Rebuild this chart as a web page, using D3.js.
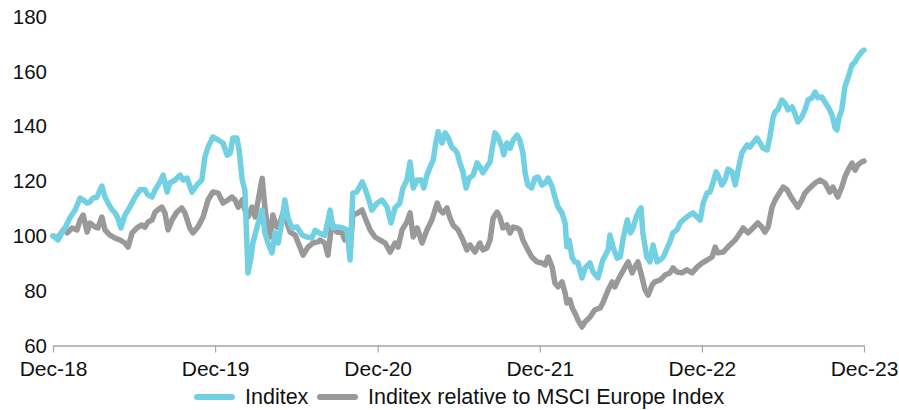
<!DOCTYPE html>
<html>
<head>
<meta charset="utf-8">
<script src="https://cdn.jsdelivr.net/npm/d3@7"></script>
<style>
  html, body { margin: 0; padding: 0; background: #fff; }
  svg { display: block; font-family: "Liberation Sans", Arial, sans-serif; }
</style>
</head>
<body>
<svg id="chart" width="899" height="410"></svg>
<script>
// Days elapsed since 31 Dec 2018, with the rebased share price (31 Dec 2018 = 100)
const inditexDays = [0,11,27,38,50,61,68,77,83,90,99,106,110,117,124,133,140,146,153,162,173,185,196,207,214,223,230,241,248,257,263,275,286,293,302,313,324,335,342,349,360,372,383,392,399,405,414,419,426,432,439,446,450,462,471,477,484,493,500,507,516,522,529,538,549,561,572,583,590,601,612,624,630,642,653,662,669,675,684,696,702,709,718,730,741,752,761,770,781,788,797,804,811,820,829,835,842,849,856,862,867,876,883,889,898,905,910,916,923,930,937,946,955,961,968,977,984,991,995,1002,1011,1015,1022,1029,1036,1045,1051,1058,1063,1069,1078,1085,1092,1101,1108,1115,1124,1130,1137,1146,1153,1157,1162,1169,1175,1182,1191,1198,1209,1216,1227,1238,1250,1254,1261,1270,1277,1284,1293,1300,1306,1313,1320,1324,1328,1337,1344,1351,1360,1367,1374,1383,1389,1396,1405,1412,1419,1427,1434,1441,1450,1457,1464,1473,1479,1486,1493,1497,1506,1513,1520,1529,1536,1543,1551,1563,1569,1576,1585,1592,1599,1608,1614,1621,1626,1632,1641,1648,1655,1664,1670,1677,1686,1693,1700,1709,1716,1722,1731,1738,1745,1754,1761,1765,1770,1776,1783,1790,1799,1806,1812,1821,1826];
const inditexValues = [100,98.5,102.9,106.5,109.5,113.8,113.1,112.0,112.4,113.8,114.2,116.8,118.2,114.2,112.0,109.5,108.4,106.5,102.9,107.6,110.5,114.2,116.8,116.8,114.9,114.2,116.8,119.7,122.2,116.0,119.3,120.4,122.2,120.4,121.1,116.0,118.6,120.4,128.8,132.4,136.1,135.0,133.9,129.5,130.2,135.7,135.7,131.4,120.4,116.8,86.5,92.3,97.4,104.7,109.4,101.1,97.4,93.8,101.1,97.4,105.8,113.1,106.5,102.9,103.3,100.3,99.6,99.2,102.0,100.9,100.2,109.4,102.9,103.3,102.9,102.2,91.2,115.6,116.0,119.7,117.5,114.2,109.4,112.0,113.1,110.6,104.7,110.2,112.0,117.5,120.4,127.0,117.5,120.4,120.4,117.5,122.2,125.1,127.7,133.9,138.0,133.9,137.6,136.1,132.4,131.4,130.3,126.7,123.4,117.5,121.1,122.2,126.7,125.3,123.0,125.3,127.0,133.9,137.6,136.1,132.4,129.6,133.9,132.0,134.9,136.8,134.9,130.3,123.0,118.6,117.5,121.1,121.5,118.6,119.3,121.1,117.9,114.2,110.6,108.4,104.7,96.0,98.5,92.0,90.5,90.2,84.7,88.3,90.1,86.8,84.7,91.2,94.9,100.3,95.9,91.9,92.3,99.3,105.8,101.1,102.9,106.9,109.4,110.2,101.1,92.3,90.5,96.7,90.5,91.2,92.3,95.6,97.8,101.1,102.2,104.7,105.8,106.9,107.7,108.4,106.9,105.8,112.0,115.7,116.0,119.3,123.4,122.2,118.6,120.4,124.4,123.3,118.6,124.4,130.3,133.2,132.4,133.9,135.7,133.9,132.0,131.4,136.1,143.1,145.3,146.0,149.6,148.5,146.0,147.1,144.9,141.6,143.4,146.0,149.6,150.4,152.5,150.4,150.7,148.9,147.1,144.2,139.4,138.7,143.4,146.0,154.4,157.7,162.4,163.5,165.3,167.2,167.8];

// Days elapsed since 31 Dec 2018, with the price relative to the MSCI Europe Index (rebased to 100)
const relativeDays = [0,11,23,32,43,54,61,68,77,83,95,101,110,117,128,140,151,162,169,178,189,200,207,214,223,230,236,245,252,259,268,279,290,297,308,315,326,338,349,360,372,383,394,403,410,417,426,432,439,448,455,462,471,477,482,489,495,504,511,518,527,534,545,556,563,574,585,597,601,612,619,628,639,651,657,664,669,675,687,696,702,714,725,736,748,759,770,777,786,797,804,811,820,831,842,853,865,871,878,887,894,901,912,923,932,939,950,961,968,977,984,991,1000,1006,1013,1022,1029,1036,1045,1051,1058,1067,1078,1090,1101,1108,1115,1124,1130,1137,1146,1153,1157,1164,1169,1175,1182,1191,1198,1209,1220,1232,1238,1250,1259,1265,1272,1281,1288,1295,1304,1310,1317,1326,1333,1340,1349,1355,1367,1378,1389,1396,1405,1416,1427,1439,1450,1461,1473,1484,1491,1497,1509,1524,1536,1547,1554,1565,1576,1587,1596,1603,1610,1619,1626,1637,1644,1653,1659,1666,1677,1686,1693,1704,1716,1727,1738,1749,1756,1767,1776,1783,1790,1799,1806,1812,1821,1826];
const relativeValues = [100,99.2,102.2,101.1,102.9,102.2,105.8,107.6,101.4,104.7,103.2,102.9,106.9,102.2,100.3,99.2,98.5,97.4,95.9,101.1,102.9,104.0,103.2,105.1,105.8,108.7,109.5,110.5,108.4,102.2,105.8,108.7,110.2,108.4,102.9,101.1,103.2,106.9,113.1,116.0,115.6,112.0,113.1,114.2,113.1,110.5,113.1,109.5,106.9,110.5,106.9,113.1,121.0,110.5,104.0,99.6,107.6,103.2,104.7,108.4,104.7,101.4,100.3,95.9,93.0,95.9,97.4,97.8,98.5,97.4,93.0,104.7,101.4,101.1,98.5,101.1,94.1,107.6,108.4,109.5,106.9,102.2,99.6,98.5,97.4,94.1,97.4,95.9,102.2,105.1,108.4,99.6,102.9,97.4,102.2,105.8,112.0,109.5,108.4,110.2,106.5,103.9,102.2,98.5,94.9,96.7,94.1,97.4,94.9,95.6,98.5,106.5,108.7,106.9,102.9,104.0,101.1,103.2,102.9,102.2,98.5,95.6,92.3,90.5,90.1,89.4,92.3,88.6,82.8,81.4,83.2,79.2,75.5,76.6,73.7,71.9,69.3,66.8,68.6,70.4,73.0,73.7,75.5,80.3,83.2,81.4,83.9,86.5,88.6,90.5,86.5,88.6,90.5,85.0,80.3,78.4,82.1,83.2,83.9,85.7,86.5,88.3,86.8,86.5,87.6,86.5,88.6,90.1,91.2,92.3,95.9,93.8,94.1,96.7,98.5,101.1,102.9,101.1,102.9,104.7,103.2,101.4,103.2,110.5,113.1,116.0,117.8,116.8,114.9,113.1,110.5,113.1,115.6,117.5,119.3,120.4,119.3,116.0,117.8,114.2,117.8,121.5,124.0,126.6,124.0,125.9,127.0,127.3];

// Axis labels and legend entries
const yTicks = [60, 80, 100, 120, 140, 160, 180];
const xTickLabels = ["Dec-18", "Dec-19", "Dec-20", "Dec-21", "Dec-22", "Dec-23"];
const seriesNames = ["Inditex", "Inditex relative to MSCI Europe Index"];
const seriesColors = ["#72d0e3", "#999999"];

const svg = d3.select("#chart");
const start = new Date(2018, 11, 31);
const toDate = d => d3.timeDay.offset(start, d);

const x = d3.scaleTime()
  .domain([start, new Date(2023, 11, 31)])
  .range([53, 864]);
const y = d3.scaleLinear()
  .domain([60, 180])
  .range([345.5, 16.7]);

const xTickDates = xTickLabels.map((_, i) => new Date(2018 + i, 11, 31));

// Bottom axis
const xAxis = svg.append("g")
  .attr("transform", "translate(0,345.5)")
  .call(d3.axisBottom(x)
    .tickValues(xTickDates)
    .tickFormat((d, i) => xTickLabels[i])
    .tickSizeInner(7)
    .tickSizeOuter(0)
    .tickPadding(9));
xAxis.select(".domain").attr("stroke", "#a6a6a6").attr("stroke-width", 1.5);
xAxis.selectAll(".tick line").attr("stroke", "#a6a6a6").attr("stroke-width", 1.2);
xAxis.selectAll(".tick text")
  .attr("fill", "#111")
  .style("font-size", "21px")
  .style("font-family", "'Liberation Sans', Arial, sans-serif");

// Left value labels (no axis line)
const yAxis = svg.append("g")
  .attr("transform", "translate(47,0)")
  .call(d3.axisLeft(y).tickValues(yTicks).tickSize(0).tickPadding(0));
yAxis.select(".domain").remove();
yAxis.selectAll(".tick text")
  .attr("fill", "#111")
  .style("font-size", "20.5px")
  .style("font-family", "'Liberation Sans', Arial, sans-serif");

// Lines
const line = d3.line()
  .x(d => x(toDate(d[0])))
  .y(d => y(d[1]))
  .curve(d3.curveLinear);

const series = [
  d3.zip(inditexDays, inditexValues),
  d3.zip(relativeDays, relativeValues)
];

svg.append("g").selectAll("path")
  .data(series.slice().reverse())
  .join("path")
  .attr("d", line)
  .attr("fill", "none")
  .attr("stroke", (d, i) => seriesColors[1 - i])
  .attr("stroke-width", 5.5)
  .attr("stroke-linejoin", "round")
  .attr("stroke-linecap", "round");

// Legend
const legendItems = [
  { name: seriesNames[0], color: seriesColors[0], x0: 197, x1: 232, tx: 245 },
  { name: seriesNames[1], color: seriesColors[1], x0: 320, x1: 355, tx: 368 }
];
const legend = svg.append("g");
legend.selectAll("line")
  .data(legendItems)
  .join("line")
  .attr("x1", d => d.x0).attr("x2", d => d.x1)
  .attr("y1", 397).attr("y2", 397)
  .attr("stroke", d => d.color)
  .attr("stroke-width", 6)
  .attr("stroke-linecap", "round");
legend.selectAll("text")
  .data(legendItems)
  .join("text")
  .attr("x", d => d.tx)
  .attr("y", 404)
  .attr("fill", "#111")
  .style("font-size", "21.5px")
  .text(d => d.name);
</script>
</body>
</html>
